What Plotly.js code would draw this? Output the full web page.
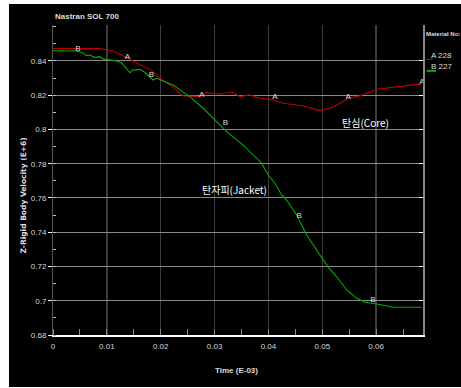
<!DOCTYPE html>
<html>
<head>
<meta charset="utf-8">
<script src="https://cdn.plot.ly/plotly-3.0.1.min.js"></script>
<style>
html,body{margin:0;padding:0;background:#ffffff;width:461px;height:388px;overflow:hidden;}
#chart{position:absolute;left:9px;top:4px;width:452px;height:383px;}
</style>
</head>
<body>
<div id="chart"></div>
<script>
// Curve A (Material 228, core)
const timeA = [0, 0.00868, 0.0111, 0.01364, 0.0155, 0.01797, 0.01983, 0.02169, 0.02416, 0.02727, 0.02851, 0.03098, 0.03316, 0.0347, 0.03656, 0.03842, 0.04028, 0.04275, 0.04586, 0.04647, 0.04957, 0.05204, 0.05483, 0.05701, 0.06011, 0.06383, 0.06691, 0.06848];
const velA = [0.8472, 0.8472, 0.8460, 0.8419, 0.8386, 0.8351, 0.8299, 0.8260, 0.8196, 0.8192, 0.8216, 0.8206, 0.8220, 0.8192, 0.8202, 0.8182, 0.8176, 0.8153, 0.8140, 0.8137, 0.8110, 0.8130, 0.8182, 0.8196, 0.8235, 0.8250, 0.8260, 0.8266];
// Curve B (Material 227, jacket)
const timeB = [0, 0.00435, 0.00558, 0.0062, 0.0068, 0.00775, 0.00868, 0.0093, 0.01178, 0.01271, 0.01333, 0.01375, 0.01426, 0.01476, 0.01611, 0.01704, 0.01797, 0.01859, 0.01922, 0.02076, 0.0223, 0.02355, 0.02541, 0.02788, 0.02974, 0.03223, 0.03532, 0.03874, 0.03996, 0.04121, 0.04245, 0.04338, 0.04524, 0.0471, 0.04957, 0.05112, 0.05268, 0.05454, 0.0564, 0.05794, 0.06011, 0.06197, 0.0632, 0.06848];
const velB = [0.8460, 0.8458, 0.8447, 0.8431, 0.8435, 0.8421, 0.8425, 0.8412, 0.8400, 0.8390, 0.8367, 0.8351, 0.8331, 0.8347, 0.8351, 0.8334, 0.8308, 0.8289, 0.8299, 0.8279, 0.8260, 0.8231, 0.8192, 0.8124, 0.8065, 0.7987, 0.7909, 0.7803, 0.7734, 0.7686, 0.7618, 0.7588, 0.7501, 0.7384, 0.7267, 0.7195, 0.7140, 0.7063, 0.7014, 0.6991, 0.6981, 0.6969, 0.6962, 0.6962];
// curve letter labels
const labelAx = [0.01383, 0.0276, 0.0412, 0.0548, 0.0685];
const labelAy = [0.8425, 0.8202, 0.8192, 0.8188, 0.8277];
const labelBx = [0.00465, 0.01829, 0.0320, 0.0457, 0.0594];
const labelBy = [0.8470, 0.8318, 0.8036, 0.7497, 0.7004];
const xTicks = [0, 0.01, 0.02, 0.03, 0.04, 0.05, 0.06];
const xTickText = ["0", "0.01", "0.02", "0.03", "0.04", "0.05", "0.06"];
const yTicks = [0.68, 0.70, 0.72, 0.74, 0.76, 0.78, 0.80, 0.82, 0.84];
const yTickText = ["0.68", "0.7", "0.72", "0.74", "0.76", "0.78", "0.8", "0.82", "0.84"];
const materials = ["A 228", "B 227"];

const narrow = "Liberation Sans Narrow, Liberation Sans, Arial, sans-serif";
const yRange = [0.68, 0.861];
const xRange = [0, 0.0687];

const traces = [
  {x: timeA, y: velA, type: 'scatter', mode: 'lines', line: {color: '#c00000', width: 1.1}, hoverinfo: 'skip'},
  {x: timeB, y: velB, type: 'scatter', mode: 'lines', line: {color: '#00b000', width: 1.1}, hoverinfo: 'skip'},
  {x: labelAx, y: labelAy, type: 'scatter', mode: 'text', text: labelAx.map(() => 'A'), textposition: 'middle center', textfont: {family: narrow, size: 8, color: '#dddddd'}, hoverinfo: 'skip'},
  {x: labelBx, y: labelBy, type: 'scatter', mode: 'text', text: labelBx.map(() => 'B'), textposition: 'middle center', textfont: {family: narrow, size: 8, color: '#dddddd'}, hoverinfo: 'skip'},
  {x: [xRange[0]], y: [yRange[0]], yaxis: 'y2', type: 'scatter', mode: 'none', hoverinfo: 'skip', showlegend: false}
];

const layout = {
  width: 452, height: 383,
  margin: {l: 44, r: 38, t: 21, b: 52},
  paper_bgcolor: '#000000',
  plot_bgcolor: '#000000',
  showlegend: false,
  font: {family: narrow, size: 8, color: '#dddddd'},
  xaxis: {
    range: xRange, tickvals: xTicks, ticktext: xTickText,
    showgrid: true, gridcolor: '#3c3c3c', gridwidth: 1.5,
    zeroline: false, showline: true, linecolor: '#ffffff', linewidth: 2,
    ticks: '', ticklabelstandoff: 2,
    tickfont: {family: narrow, size: 8, color: '#d8d8d8'},
    minor: {dtick: 0.005, tick0: 0, ticks: 'inside', ticklen: 6, tickcolor: '#888888', tickwidth: 1, showgrid: false}
  },
  yaxis: {
    range: yRange, tickvals: yTicks, ticktext: yTickText,
    showgrid: true, gridcolor: '#8a8a8a', gridwidth: 1,
    zeroline: false, showline: true, linecolor: '#555555', linewidth: 1,
    ticks: 'outside', ticklen: 4, tickcolor: '#ffffff', tickwidth: 1,
    tickfont: {family: narrow, size: 8, color: '#d8d8d8'},
    minor: {dtick: 0.01, tick0: 0.68, ticks: 'inside', ticklen: 3, tickcolor: '#bbbbbb', tickwidth: 1, showgrid: false}
  },
  yaxis2: {
    range: yRange, overlaying: 'y', side: 'right', tickvals: yTicks,
    showticklabels: false, showgrid: false, zeroline: false,
    showline: true, linecolor: '#888888', linewidth: 2,
    ticks: 'inside', ticklen: 4, tickcolor: '#ffffff', tickwidth: 1
  },
  shapes: [
    {type: 'line', xref: 'paper', yref: 'paper', x0: 1.010, x1: 1.027, y0: 0.889, y1: 0.889, line: {color: '#c00000', width: 1, dash: 'dash'}},
    {type: 'line', xref: 'paper', yref: 'paper', x0: 1.010, x1: 1.035, y0: 0.852, y1: 0.852, line: {color: '#00b000', width: 2}}
  ],
  annotations: [
    {text: 'Nastran SOL 700', xref: 'paper', yref: 'paper', x: 0, y: 1.029, xanchor: 'left', yanchor: 'middle', showarrow: false, font: {family: narrow, size: 8, color: '#dddddd', weight: 'bold'}},
    {text: 'Material No:', xref: 'paper', yref: 'paper', x: 1.003, y: 0.971, xanchor: 'left', yanchor: 'middle', showarrow: false, font: {family: narrow, size: 6, color: '#dddddd', weight: 'bold'}},
    {text: materials[0], xref: 'paper', yref: 'paper', x: 1.016, y: 0.902, xanchor: 'left', yanchor: 'middle', showarrow: false, font: {family: narrow, size: 8, color: '#dddddd'}},
    {text: materials[1], xref: 'paper', yref: 'paper', x: 1.016, y: 0.866, xanchor: 'left', yanchor: 'middle', showarrow: false, font: {family: narrow, size: 8, color: '#dddddd'}},
    {text: 'Z-Rigid Body Velocity (E+6)', xref: 'paper', yref: 'paper', x: -0.081, y: 0.45, xanchor: 'center', yanchor: 'middle', textangle: -90, showarrow: false, font: {family: 'DejaVu Sans, sans-serif', size: 7.5, color: '#dddddd', weight: 'bold'}},
    {text: 'Time (E-03)', xref: 'paper', yref: 'paper', x: 0.495, y: -0.116, xanchor: 'center', yanchor: 'middle', showarrow: false, font: {family: narrow, size: 8, color: '#dddddd', weight: 'bold'}},
    {text: '탄심(Core)', xref: 'x', yref: 'y', x: 0.0581, y: 0.8038, xanchor: 'center', yanchor: 'middle', showarrow: false, font: {family: 'Noto Sans CJK KR, sans-serif', size: 10, color: '#ffffff'}},
    {text: '탄자피(Jacket)', xref: 'x', yref: 'y', x: 0.03377, y: 0.7647, xanchor: 'center', yanchor: 'middle', showarrow: false, font: {family: 'Noto Sans CJK KR, sans-serif', size: 10, color: '#ffffff'}}
  ]
};

Plotly.newPlot('chart', traces, layout, {displayModeBar: false, staticPlot: true});
</script>
</body>
</html>
